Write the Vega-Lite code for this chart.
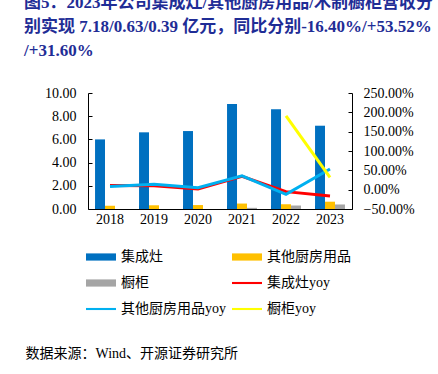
{
  "$schema": "https://vega.github.io/schema/vega-lite/v6.json",
  "autosize": {"type": "none"},
  "width": 264,
  "height": 116,
  "padding": {"left": 88, "top": 93, "right": 86, "bottom": 165},
  "background": "white",
  "config": {"view": {"stroke": null}, "font": "Liberation Serif"},
  "title": {
    "text": ["图5：2023年公司集成灶/其他厨房用品/木制橱柜营收分", "别实现 7.18/0.63/0.39 亿元，同比分别-16.40%/+53.52%", "/+31.60%"],
    "anchor": "start",
    "frame": "group",
    "dx": -64,
    "offset": 9,
    "baseline": "bottom",
    "lineHeight": 24,
    "fontSize": 17,
    "font": "Liberation Serif, Noto Sans CJK SC",
    "fontWeight": "bold",
    "color": "#1F2D96"
  },
  "datasets": {
    "bars": [
      {"year": "2018", "series": "集成灶", "value": 6.0},
      {"year": "2019", "series": "集成灶", "value": 6.61},
      {"year": "2020", "series": "集成灶", "value": 6.72},
      {"year": "2021", "series": "集成灶", "value": 9.05},
      {"year": "2022", "series": "集成灶", "value": 8.59},
      {"year": "2023", "series": "集成灶", "value": 7.18},
      {"year": "2018", "series": "其他厨房用品", "value": 0.28},
      {"year": "2019", "series": "其他厨房用品", "value": 0.32},
      {"year": "2020", "series": "其他厨房用品", "value": 0.34},
      {"year": "2021", "series": "其他厨房用品", "value": 0.47},
      {"year": "2022", "series": "其他厨房用品", "value": 0.41},
      {"year": "2023", "series": "其他厨房用品", "value": 0.63},
      {"year": "2021", "series": "橱柜", "value": 0.1},
      {"year": "2022", "series": "橱柜", "value": 0.3},
      {"year": "2023", "series": "橱柜", "value": 0.39}
    ],
    "lines": [
      {"year": "2018", "series": "集成灶yoy", "yoy": 11.0},
      {"year": "2019", "series": "集成灶yoy", "yoy": 10.0},
      {"year": "2020", "series": "集成灶yoy", "yoy": 1.7},
      {"year": "2021", "series": "集成灶yoy", "yoy": 34.7},
      {"year": "2022", "series": "集成灶yoy", "yoy": -5.1},
      {"year": "2023", "series": "集成灶yoy", "yoy": -16.4},
      {"year": "2018", "series": "其他厨房用品yoy", "yoy": 8.0},
      {"year": "2019", "series": "其他厨房用品yoy", "yoy": 14.0},
      {"year": "2020", "series": "其他厨房用品yoy", "yoy": 5.0},
      {"year": "2021", "series": "其他厨房用品yoy", "yoy": 36.0},
      {"year": "2022", "series": "其他厨房用品yoy", "yoy": -12.0},
      {"year": "2023", "series": "其他厨房用品yoy", "yoy": 53.52},
      {"year": "2022", "series": "橱柜yoy", "yoy": 191.0},
      {"year": "2023", "series": "橱柜yoy", "yoy": 31.6}
    ]
  },
  "encoding": {
    "x": {
      "field": "year",
      "type": "nominal",
      "scale": {"paddingInner": 0.32, "paddingOuter": 0.16},
      "axis": {
        "title": "数据来源：Wind、开源证券研究所",
        "titleFont": "Liberation Serif, Noto Sans CJK SC",
        "titleFontSize": 14,
        "titleFontWeight": "normal",
        "titleColor": "#000",
        "titleAnchor": null,
        "titleAlign": "left",
        "titleBaseline": "middle",
        "titleX": -63,
        "titleY": 144,
        "bandPosition": 0,
        "labelAngle": 0,
        "labelDx": 22,
        "labelAlign": "center",
        "labelFontSize": 14,
        "labelColor": "#000",
        "labelPadding": 7,
        "tickSize": -4,
        "tickColor": "#000",
        "domainColor": "#000",
        "grid": false
      }
    }
  },
  "layer": [
    {
      "data": {"name": "bars"},
      "mark": {"type": "bar"},
      "encoding": {
        "xOffset": {"field": "series", "type": "nominal", "scale": {"domain": ["集成灶", "其他厨房用品", "橱柜"], "paddingInner": 0}},
        "y": {
          "field": "value",
          "type": "quantitative",
          "scale": {"domain": [0, 10], "nice": false},
          "axis": {
            "title": null,
            "values": [0, 2, 4, 6, 8, 10],
            "format": ".2f",
            "labelFontSize": 14,
            "labelColor": "#000",
            "tickSize": -4,
            "labelPadding": 16,
            "tickColor": "#000",
            "domainColor": "#000",
            "grid": false
          }
        },
        "color": {
          "field": "series",
          "type": "nominal",
          "scale": {
            "domain": ["集成灶", "其他厨房用品", "橱柜", "集成灶yoy", "其他厨房用品yoy", "橱柜yoy"],
            "range": ["#0070C0", "#FFC000", "#A5A5A5", "#FF0000", "#00B0F0", "#FFFF00"]
          },
          "legend": {
            "title": null,
            "orient": "none",
            "direction": "horizontal",
            "legendX": -2,
            "legendY": 149,
            "columns": 2,
            "columnPadding": 6,
            "rowPadding": 4,
            "symbolSize": 900,
            "labelOffset": 5,
            "labelFontSize": 14,
            "labelFont": "Liberation Serif, Noto Sans CJK SC",
            "labelColor": "#000",
            "labelLimit": 200,
            "encode": {
              "symbols": {
                "update": {
                  "shape": {"signal": "indexof(['集成灶','其他厨房用品','橱柜'], datum.value) >= 0 ? 'M-1,-0.24H1V0.24H-1Z' : 'M-1,-0.07H1V0.07H-1Z'"},
                  "fill": {"scale": "color", "field": "value"},
                  "strokeWidth": {"value": 0},
                  "opacity": {"value": 1}
                }
              }
            }
          }
        }
      }
    },
    {
      "data": {"name": "lines"},
      "mark": {"type": "line", "strokeWidth": 3},
      "encoding": {
        "y": {
          "field": "yoy",
          "type": "quantitative",
          "scale": {"domain": [-50, 250], "nice": false},
          "axis": {
            "title": null,
            "orient": "right",
            "values": [-50, 0, 50, 100, 150, 200, 250],
            "labelExpr": "format(datum.value, '.2f') + '%'",
            "labelFontSize": 14,
            "labelColor": "#000",
            "tickSize": -4,
            "labelPadding": 15,
            "tickColor": "#000",
            "domainColor": "#000",
            "grid": false
          }
        },
        "color": {"field": "series", "type": "nominal"}
      }
    }
  ],
  "resolve": {"scale": {"y": "independent"}}
}
